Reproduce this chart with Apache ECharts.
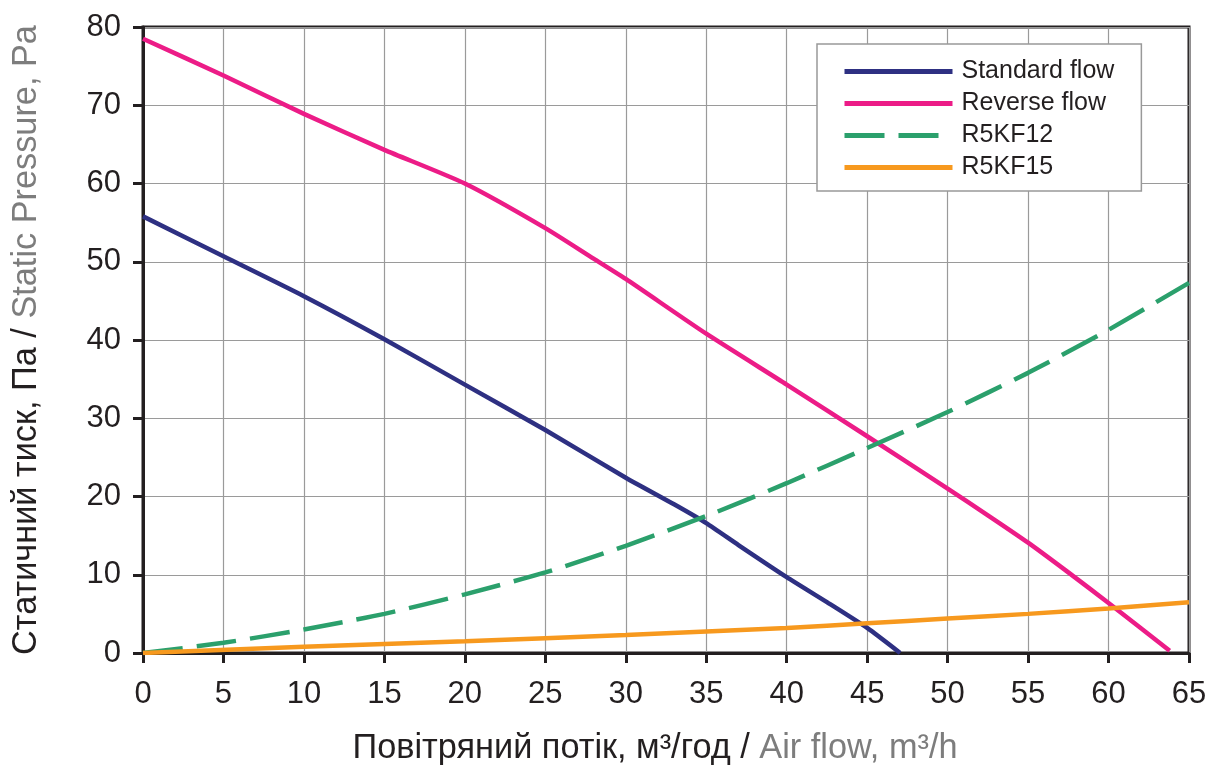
<!DOCTYPE html>
<html><head><meta charset="utf-8">
<script src="https://cdn.jsdelivr.net/npm/echarts@6/dist/echarts.min.js"></script>
<style>html,body{margin:0;padding:0;background:#fff}#c{width:1213px;height:771px}</style>
</head><body><div id="c"></div>
<script>
const seriesNames = ['Standard flow', 'Reverse flow', 'R5KF12', 'R5KF15'];
const standardFlow = [[0,55.8],[5,50.7],[10,45.6],[15,40.1],[20,34.3],[25,28.5],[30,22.4],[33,19.0],[35,16.6],[37,13.8],[40,9.7],[42.5,6.5],[45,3.2],[47.05,0]];
const reverseFlow = [[0,78.5],[5,73.8],[10,68.9],[15,64.3],[20,60.0],[25,54.3],[28,50.4],[30,47.8],[35,40.8],[40,34.3],[45,27.7],[50,21.0],[52.5,17.6],[55,14.1],[57.5,10.3],[60,6.4],[63.8,0.3]];
const r5kf12 = [[0,0],[5,1.3],[10,3.0],[15,5.0],[20,7.5],[25,10.3],[30,13.7],[35,17.5],[40,21.7],[45,26.2],[50,30.8],[55,35.8],[60,41.3],[65,47.3]];
const r5kf15 = [[0,0],[10,0.8],[20,1.5],[30,2.3],[40,3.2],[45,3.8],[50,4.4],[55,5.0],[60,5.7],[65,6.5]];
const xTicks = {min:0, max:65, interval:5};
const yTicks = {min:0, max:80, interval:10};

const colors = ['#2E3082', '#EC1C87', '#2BA06C', '#F7991E'];
const dark = '#231F20';
const chart = echarts.init(document.getElementById('c'));
function mk(name, data, color, dashed){
  return {name, type:'line', data, smooth:0.2, symbol:'none', z: 5,
    lineStyle:{color, width:4.5, type: dashed ? [40,14] : 'solid'}, itemStyle:{color}};
}
const titleRich = {d:{fontFamily:'Liberation Sans', fontSize:34.3, color:dark}, g:{fontFamily:'Liberation Sans', fontSize:34.3, color:'#7d7d7d'}};
chart.setOption({
  animation:false,
  grid:{left:143, right:24, top:27, bottom:116, show:true, borderColor:dark, borderWidth:3, backgroundColor:'transparent'},
  legend:{
    orient:'vertical', left:817, top:44, itemWidth:108, itemHeight:14, itemGap:7,
    padding:[15,27,11,25], borderColor:'#999', borderWidth:1.5, backgroundColor:'#fff',
    itemStyle:{opacity:0},
    lineStyle:{width:5},
    textStyle:{fontFamily:'Liberation Sans', fontSize:25, color:dark, padding:[0,0,0,4]},
    data: seriesNames
  },
  xAxis:{type:'value', min:xTicks.min, max:xTicks.max, interval:xTicks.interval,
    axisLine:{lineStyle:{color:dark, width:3}},
    axisTick:{length:10, lineStyle:{color:dark, width:3}},
    axisLabel:{fontFamily:'Liberation Sans', fontSize:31, color:dark, margin:26},
    splitLine:{lineStyle:{color:'#9a9a9a', width:1.2}},
    name:'{d|Повітряний потік, м³/год / }{g|Air flow, m³/h}', nameLocation:'middle', nameGap:79,
    nameTextStyle:{rich:titleRich, padding:[0,22,0,0]}
  },
  yAxis:{type:'value', min:yTicks.min, max:yTicks.max, interval:yTicks.interval,
    axisLine:{lineStyle:{color:dark, width:3}},
    axisTick:{length:10, lineStyle:{color:dark, width:3}},
    axisLabel:{fontFamily:'Liberation Sans', fontSize:31, color:dark, margin:22},
    splitLine:{lineStyle:{color:'#9a9a9a', width:1.2}},
    name:'{d|Статичний тиск, Па / }{g|Static Pressure, Pa}', nameLocation:'middle', nameGap:99,
    nameTextStyle:{rich:titleRich}
  },
  series:[
    mk(seriesNames[0], standardFlow, colors[0]),
    mk(seriesNames[1], reverseFlow, colors[1]),
    mk(seriesNames[2], r5kf12, colors[2], true),
    mk(seriesNames[3], r5kf15, colors[3])
  ]
});
</script></body></html>
